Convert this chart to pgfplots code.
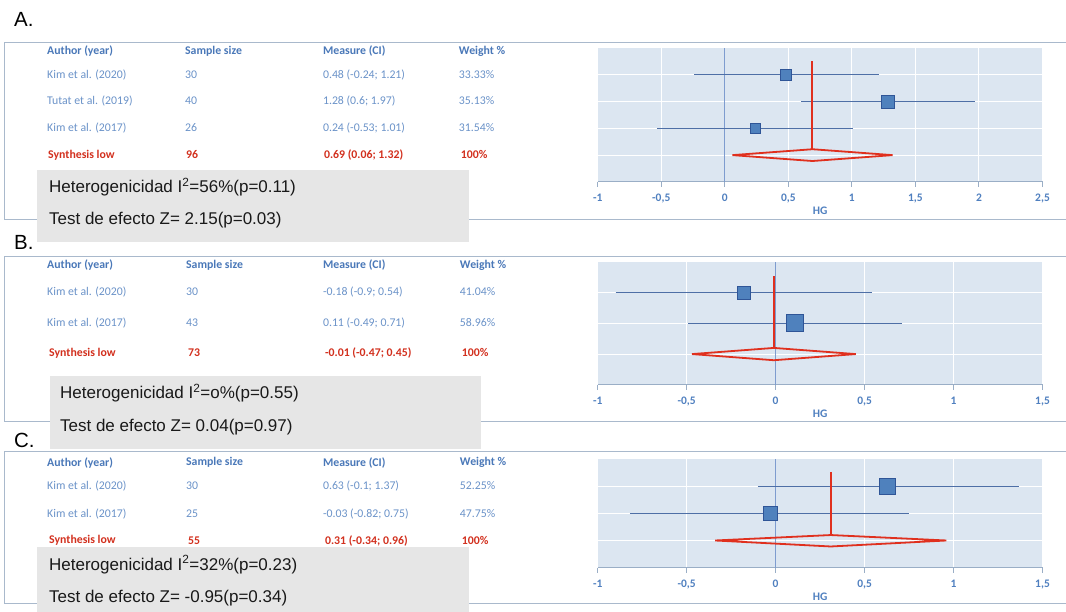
\documentclass[border=0pt]{standalone}
\usepackage{pgfplots}
\pgfplotsset{compat=1.18}
\usepackage{fontspec}
\setmainfont{Liberation Sans}
\newfontfamily\carl{Carlito}
\definecolor{hdr}{HTML}{4A78B8}
\definecolor{rowc}{HTML}{6A92C8}
\definecolor{synth}{HTML}{D2301E}
\definecolor{framec}{HTML}{A9B9CC}
\definecolor{plotbg}{HTML}{DCE6F1}
\definecolor{sqfill}{HTML}{4F81BD}
\definecolor{sqdraw}{HTML}{2F5597}
\definecolor{cil}{HTML}{4E6FA6}
\definecolor{fred}{HTML}{E0301E}
\definecolor{greyb}{HTML}{E6E6E6}
\definecolor{zline}{HTML}{7E9CCF}
\definecolor{axl}{HTML}{9AAEC6}
\definecolor{tickc}{HTML}{4F7FBF}
\pgfplotsset{forest/.style={
  scale only axis, width=445pt,
  axis background/.style={fill=plotbg},
  axis x line*=bottom, axis y line*=left,
  y axis line style={draw=none},
  ytick style={draw=none}, yticklabels={},
  ymin=0, xmin=-1,
  ytick={1,2,3,4},
  ymajorgrids, xmajorgrids,
  major grid style={white, line width=1pt},
  x axis line style={axl, line width=1pt, -},
  xtick style={axl, line width=1pt},
  tick align=outside, major tick length=5pt,
  xticklabel style={font=\carl\bfseries\fontsize{11.5}{12}\selectfont, text=tickc, yshift=-4pt},
  xlabel={HG},
  xlabel style={font=\carl\bfseries\fontsize{11.5}{12}\selectfont, text=tickc, at={(axis description cs:0.5,0)}, anchor=center, yshift=-29pt},
  clip=false,
}}
\tikzset{tb/.style={anchor=west, inner sep=0pt, font=\carl\fontsize{11.8}{13}\selectfont},
  hd/.style={tb, text=hdr, font=\carl\bfseries\fontsize{11.8}{13}\selectfont},
  rw/.style={tb, text=rowc},
  sy/.style={tb, text=synth, font=\carl\bfseries\fontsize{11.8}{13}\selectfont},
  gb/.style={anchor=west, inner sep=0pt, text=black!90, font=\fontsize{17}{20}\selectfont},
  lab/.style={anchor=west, inner sep=0pt, font=\fontsize{20.5}{24}\selectfont}}
\begin{document}
\begin{tikzpicture}[x=1pt,y=1pt]
\path (0,0) rectangle (1066,612);
% frames
\draw[framec, line width=1pt] (1066,569) -- (4.5,569) -- (4.5,392) -- (1066,392);
\draw[framec, line width=1pt] (1066,355) -- (4.5,355) -- (4.5,190) -- (1066,190);
\draw[framec, line width=1pt] (1066,160) -- (4.5,160) -- (4.5,8) -- (1066,8);
% labels
\node[lab] at (14,592.5) {A.};
\node[lab] at (14,369) {B.};
\node[lab] at (14,171) {C.};
% table A
\node[hd] at (47,561) {Author (year)};
\node[hd] at (185,561) {Sample size};
\node[hd] at (323,561) {Measure (CI)};
\node[hd] at (459,561) {Weight \%};
\node[rw] at (47,537) {Kim et al. (2020)};
\node[rw] at (185,537) {30};
\node[rw] at (323,537) {0.48 (-0.24; 1.21)};
\node[rw] at (459,537) {33.33\%};
\node[rw] at (47,511) {Tutat et al. (2019)};
\node[rw] at (185,511) {40};
\node[rw] at (323,511) {1.28 (0.6; 1.97)};
\node[rw] at (459,511) {35.13\%};
\node[rw] at (47,484) {Kim et al. (2017)};
\node[rw] at (185,484) {26};
\node[rw] at (323,484) {0.24 (-0.53; 1.01)};
\node[rw] at (459,484) {31.54\%};
\node[sy] at (48,457) {Synthesis low};
\node[sy] at (186,457) {96};
\node[sy] at (324,457) {0.69 (0.06; 1.32)};
\node[sy] at (461,457) {100\%};
% table B
\node[hd] at (47,347) {Author (year)};
\node[hd] at (186,347) {Sample size};
\node[hd] at (323,347) {Measure (CI)};
\node[hd] at (460,347) {Weight \%};
\node[rw] at (47,320) {Kim et al. (2020)};
\node[rw] at (186,320) {30};
\node[rw] at (323,320) {-0.18 (-0.9; 0.54)};
\node[rw] at (460,320) {41.04\%};
\node[rw] at (47,289) {Kim et al. (2017)};
\node[rw] at (186,289) {43};
\node[rw] at (323,289) {0.11 (-0.49; 0.71)};
\node[rw] at (460,289) {58.96\%};
\node[sy] at (49,259) {Synthesis low};
\node[sy] at (188,259) {73};
\node[sy] at (325,259) {-0.01 (-0.47; 0.45)};
\node[sy] at (462,259) {100\%};
% table C
\node[hd] at (47,149) {Author (year)};
\node[hd] at (186,149) {Sample size};
\node[hd] at (323,149) {Measure (CI)};
\node[hd] at (460,149) {Weight \%};
\node[rw] at (47,126) {Kim et al. (2020)};
\node[rw] at (186,126) {30};
\node[rw] at (323,126) {0.63 (-0.1; 1.37)};
\node[rw] at (460,126) {52.25\%};
\node[rw] at (47,98) {Kim et al. (2017)};
\node[rw] at (186,98) {25};
\node[rw] at (323,98) {-0.03 (-0.82; 0.75)};
\node[rw] at (460,98) {47.75\%};
\node[sy] at (49,71) {Synthesis low};
\node[sy] at (188,71) {55};
\node[sy] at (325,71) {0.31 (-0.34; 0.96)};
\node[sy] at (462,71) {100\%};
% grey boxes
\fill[greyb] (37,442) rectangle (469,370);
\node[gb] at (49,425) {Heterogenicidad I\textsuperscript{2}=56\%(p=0.11)};
\node[gb] at (49,392) {Test de efecto Z= 2.15(p=0.03)};
\fill[greyb] (50,236) rectangle (481,163);
\node[gb] at (60,219) {Heterogenicidad I\textsuperscript{2}=o\%(p=0.55)};
\node[gb] at (60,185) {Test de efecto Z= 0.04(p=0.97)};
\fill[greyb] (37,65) rectangle (469,0);
\node[gb] at (49,47) {Heterogenicidad I\textsuperscript{2}=32\%(p=0.23)};
\node[gb] at (49,14) {Test de efecto Z= -0.95(p=0.34)};
% plot A
\begin{axis}[forest, at={(598pt,430pt)}, anchor=south west, height=134pt,
  xmax=2.5, ymax=5, xtick={-1,-0.5,0,0.5,1,1.5,2,2.5},
  xticklabels={-1,{-0,5},0,{0,5},1,{1,5},2,{2,5}}]
\addplot[zline, line width=0.8pt] coordinates {(0,0) (0,5)};
\addplot[cil, line width=0.8pt] coordinates {(-0.24,4) (1.21,4)};
\addplot[cil, line width=0.8pt] coordinates {(0.6,3) (1.97,3)};
\addplot[cil, line width=0.8pt] coordinates {(-0.53,2) (1.01,2)};
\addplot[only marks, mark=square*, mark size=5.5pt, mark options={fill=sqfill, draw=sqdraw, line width=0.8pt}] coordinates {(0.48,4)};
\addplot[only marks, mark=square*, mark size=6.5pt, mark options={fill=sqfill, draw=sqdraw, line width=0.8pt}] coordinates {(1.28,3)};
\addplot[only marks, mark=square*, mark size=5pt, mark options={fill=sqfill, draw=sqdraw, line width=0.8pt}] coordinates {(0.24,2)};
\addplot[fred, line width=2pt] coordinates {(0.69,4.5) (0.69,1.22)};
\addplot[fred, line width=1.8pt] coordinates {(0.06,1) (0.69,1.22) (1.32,1) (0.69,0.78) (0.06,1)};
\end{axis}
% plot B
\begin{axis}[forest, at={(598pt,227pt)}, anchor=south west, height=123pt,
  xmax=1.5, ymax=4, xtick={-1,-0.5,0,0.5,1,1.5},
  xticklabels={-1,{-0,5},0,{0,5},1,{1,5}}]
\addplot[zline, line width=0.8pt] coordinates {(0,0) (0,4)};
\addplot[cil, line width=0.8pt] coordinates {(-0.9,3) (0.54,3)};
\addplot[cil, line width=0.8pt] coordinates {(-0.49,2) (0.71,2)};
\addplot[only marks, mark=square*, mark size=6.5pt, mark options={fill=sqfill, draw=sqdraw, line width=0.8pt}] coordinates {(-0.18,3)};
\addplot[only marks, mark=square*, mark size=8.5pt, mark options={fill=sqfill, draw=sqdraw, line width=0.8pt}] coordinates {(0.11,2)};
\addplot[fred, line width=2pt] coordinates {(-0.01,3.54) (-0.01,1.2)};
\addplot[fred, line width=1.8pt] coordinates {(-0.47,1) (-0.01,1.2) (0.45,1) (-0.01,0.8) (-0.47,1)};
\end{axis}
% plot C
\begin{axis}[forest, at={(598pt,44pt)}, anchor=south west, height=109pt,
  xmax=1.5, ymax=4, xtick={-1,-0.5,0,0.5,1,1.5},
  xticklabels={-1,{-0,5},0,{0,5},1,{1,5}}]
\addplot[zline, line width=0.8pt] coordinates {(0,0) (0,4)};
\addplot[cil, line width=0.8pt] coordinates {(-0.1,3) (1.37,3)};
\addplot[cil, line width=0.8pt] coordinates {(-0.82,2) (0.75,2)};
\addplot[only marks, mark=square*, mark size=8pt, mark options={fill=sqfill, draw=sqdraw, line width=0.8pt}] coordinates {(0.63,3)};
\addplot[only marks, mark=square*, mark size=7pt, mark options={fill=sqfill, draw=sqdraw, line width=0.8pt}] coordinates {(-0.03,2)};
\addplot[fred, line width=2pt] coordinates {(0.31,3.52) (0.31,1.2)};
\addplot[fred, line width=1.8pt] coordinates {(-0.34,1) (0.31,1.2) (0.96,1) (0.31,0.78) (-0.34,1)};
\end{axis}
\end{tikzpicture}
\end{document}
